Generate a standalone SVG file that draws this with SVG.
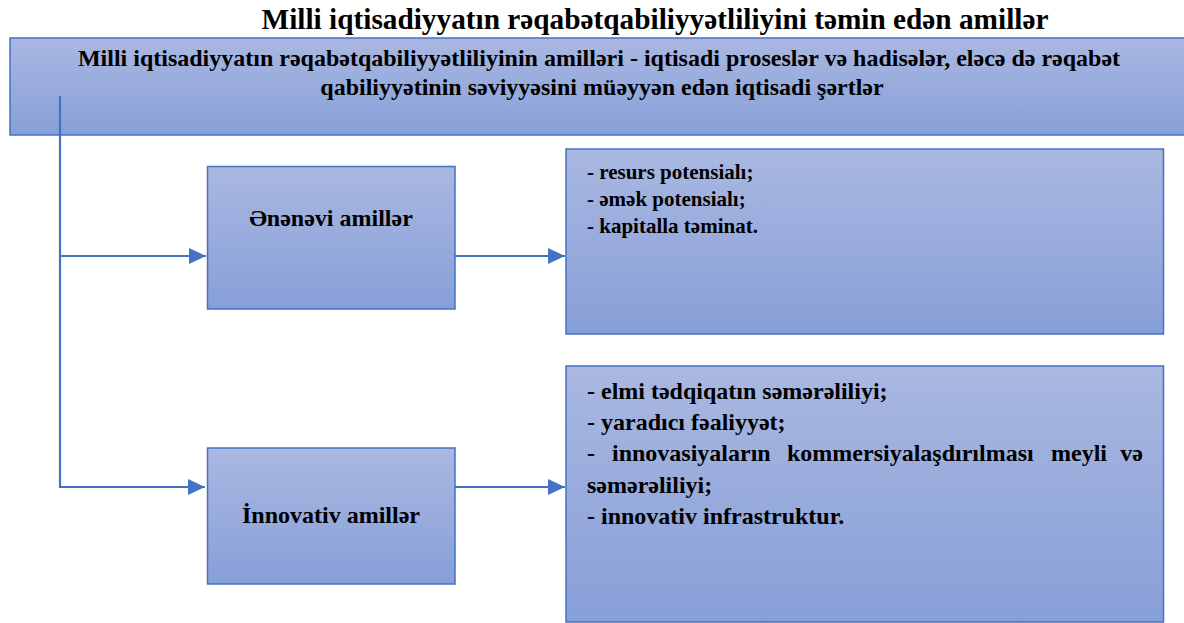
<svg xmlns="http://www.w3.org/2000/svg" width="1184" height="623" viewBox="0 0 1184 623">
<defs>
<linearGradient id="g" x1="0" y1="0" x2="0" y2="1">
<stop offset="0" stop-color="#aab8e1"/>
<stop offset="1" stop-color="#879fd8"/>
</linearGradient>
<marker id="ah" markerUnits="userSpaceOnUse" markerWidth="18" markerHeight="16" refX="17" refY="8" orient="auto">
<path d="M0,0 L17,8 L0,16 Z" fill="#4472c4"/>
</marker>
<style>
.box{fill:url(#g);stroke:#4472c4;stroke-width:1.5}
.t{font-family:"Liberation Serif","Times New Roman",serif;font-weight:bold;fill:#000}
.c{stroke:#4472c4;stroke-width:2.2;fill:none}
</style>
</defs>
<rect width="1184" height="623" fill="#fff"/>
<text class="t" x="655" y="29" font-size="29.3" text-anchor="middle">Milli iqtisadiyyatın rəqabətqabiliyyətliliyini təmin edən amillər</text>

<g id="top">
<rect class="box" x="10" y="38" width="1190" height="97"/>
<text class="t" x="599" y="66" font-size="24" text-anchor="middle">Milli iqtisadiyyatın rəqabətqabiliyyətliliyinin amilləri - iqtisadi proseslər və hadisələr, eləcə də rəqabət</text>
<text class="t" x="602" y="95" font-size="24" text-anchor="middle">qabiliyyətinin səviyyəsini müəyyən edən iqtisadi şərtlər</text>
</g>

<g id="connectors">
<polyline class="c" points="60,96 60,487 205,487" marker-end="url(#ah)"/>
<line class="c" x1="60" y1="256" x2="206" y2="256" marker-end="url(#ah)"/>
<line class="c" x1="455" y1="256" x2="565" y2="256" marker-end="url(#ah)"/>
<line class="c" x1="455" y1="487" x2="565" y2="487" marker-end="url(#ah)"/>
</g>

<g id="traditional">
<rect class="box" x="207.5" y="166.5" width="247.5" height="142.5"/>
<text class="t" x="331" y="226" font-size="24" text-anchor="middle">Ənənəvi amillər</text>
</g>

<g id="innovative">
<rect class="box" x="207.5" y="448" width="247.5" height="136"/>
<text class="t" x="331" y="523" font-size="24" text-anchor="middle">İnnovativ amillər</text>
</g>

<g id="traditional-list">
<rect class="box" x="566" y="149" width="597.5" height="185"/>
<text class="t" font-size="21">
<tspan x="587" y="179">- resurs potensialı;</tspan>
<tspan x="587" y="206">- əmək potensialı;</tspan>
<tspan x="587" y="232.5">- kapitalla təminat.</tspan>
</text>
</g>

<g id="innovative-list">
<rect class="box" x="566" y="366" width="597.5" height="256"/>
<text class="t" font-size="24">
<tspan x="587" y="398.5">- elmi tədqiqatın səmərəliliyi;</tspan>
<tspan x="587" y="430">- yaradıcı fəaliyyət;</tspan>
</text>
<text class="t" font-size="24" y="461"><tspan x="587">-</tspan><tspan x="612">innovasiyaların</tspan><tspan x="787">kommersiyalaşdırılması</tspan><tspan x="1051">meyli</tspan></text>
<text class="t" font-size="24" x="1143" y="461" text-anchor="end">və</text>
<text class="t" font-size="24">
<tspan x="587" y="492.5">səmərəliliyi;</tspan>
<tspan x="587" y="524">- innovativ infrastruktur.</tspan>
</text>
</g>
</svg>
